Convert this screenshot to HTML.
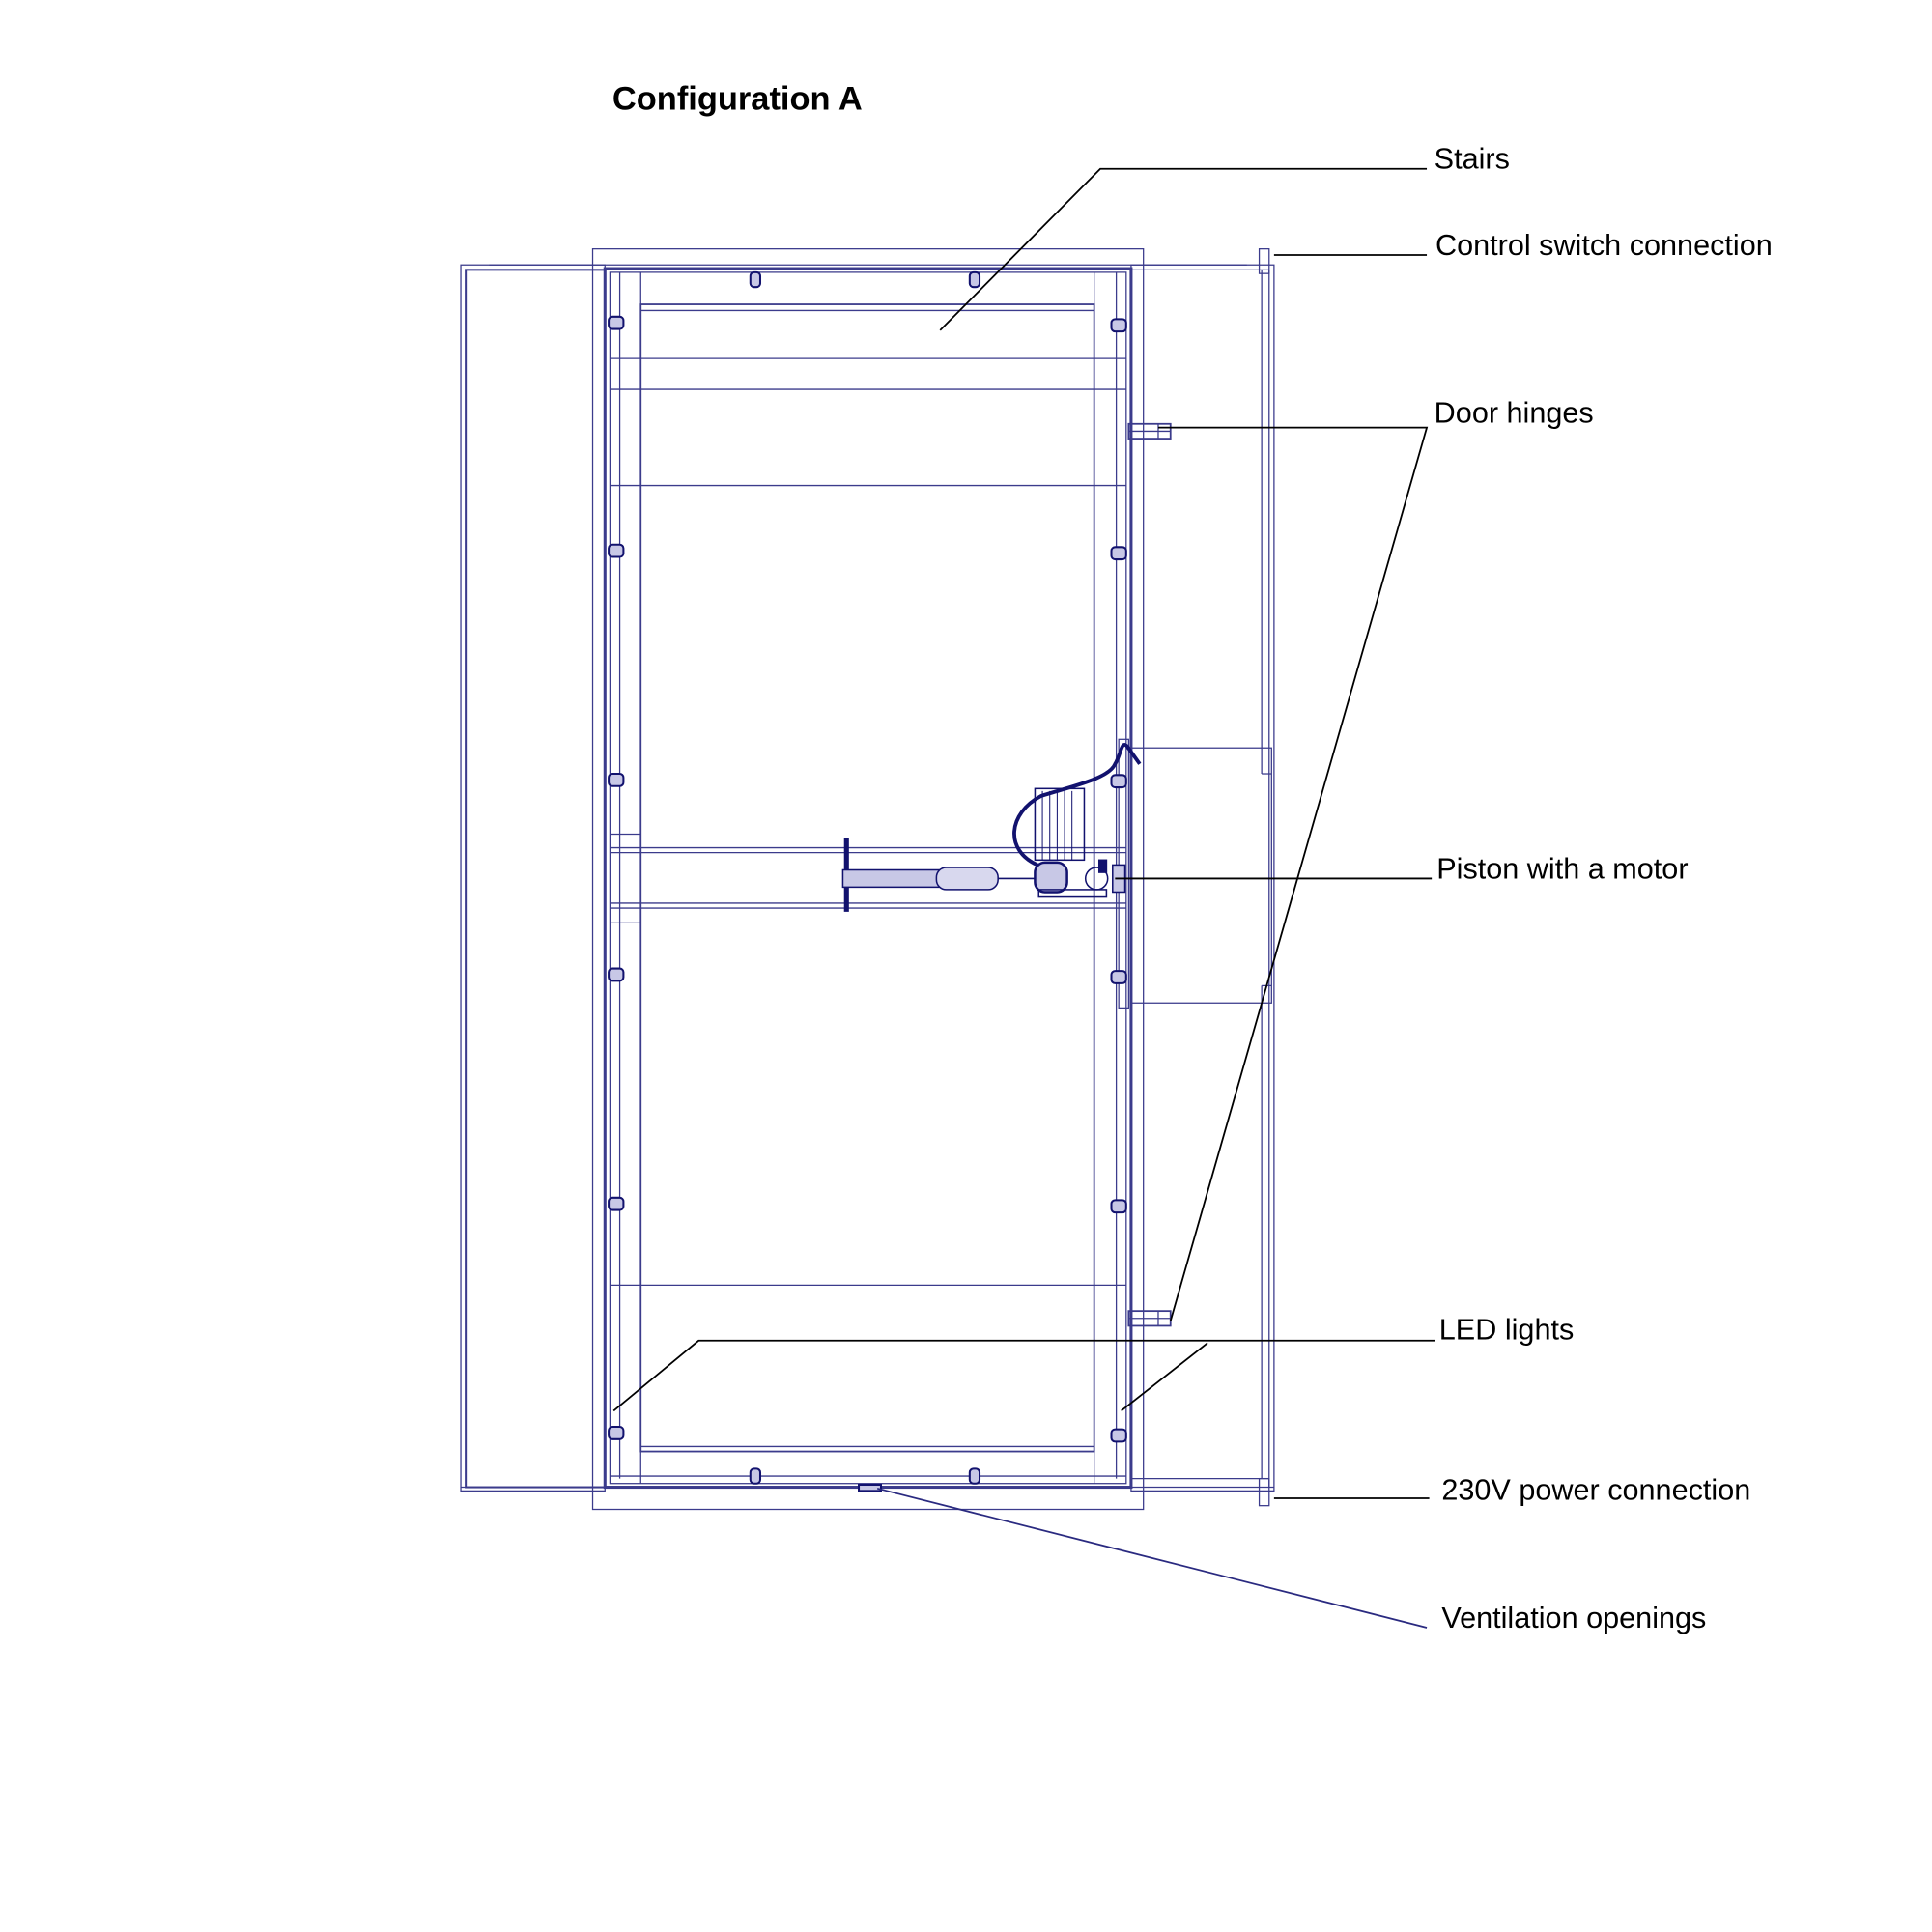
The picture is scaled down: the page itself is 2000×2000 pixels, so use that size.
<!DOCTYPE html>
<html><head><meta charset="utf-8"><style>
html,body{margin:0;padding:0;background:#fff;width:2000px;height:2000px;overflow:hidden}
svg{display:block}
text{font-family:"Liberation Sans",Arial,sans-serif;fill:#000}
</style></head><body>
<svg width="2000" height="2000" viewBox="0 0 1568 1568" xmlns="http://www.w3.org/2000/svg">
<g fill="none" stroke="#1a1a78" stroke-width="1" opacity="0.85">
  <rect x="374" y="215" width="117" height="995"/>
  <rect x="378" y="219" width="113" height="988" stroke-width="1.6"/>
  <line x1="397" y1="215" x2="1012" y2="215"/>
  <line x1="374" y1="1207" x2="1034" y2="1207"/>
  <rect x="481" y="202" width="447" height="1023"/>
  <rect x="491" y="218" width="427" height="989" stroke-width="2.4"/>
  <rect x="495" y="221" width="419" height="983"/>
  <line x1="503" y1="221" x2="503" y2="1200"/>
  <line x1="906" y1="221" x2="906" y2="1200"/>
  <rect x="520" y="247" width="368" height="931" stroke-width="1.4"/>
  <line x1="520" y1="221" x2="520" y2="1204"/>
  <line x1="888" y1="221" x2="888" y2="1204"/>
  <line x1="520" y1="252" x2="888" y2="252"/>
  <line x1="520" y1="1174" x2="888" y2="1174"/>
  <line x1="495" y1="291" x2="914" y2="291"/>
  <line x1="495" y1="316" x2="914" y2="316"/>
  <line x1="495" y1="394" x2="914" y2="394"/>
  <line x1="495" y1="1043" x2="914" y2="1043"/>
  <line x1="495" y1="1198" x2="914" y2="1198"/>
  <line x1="495" y1="688" x2="914" y2="688"/>
  <line x1="495" y1="692" x2="914" y2="692"/>
  <line x1="495" y1="733" x2="914" y2="733"/>
  <line x1="495" y1="737" x2="914" y2="737"/>
  <line x1="495" y1="677" x2="520" y2="677"/>
  <line x1="495" y1="749" x2="520" y2="749"/>
  <rect x="918" y="215" width="116" height="995"/>
  <line x1="918" y1="219" x2="1030" y2="219"/>
  <line x1="918" y1="1200" x2="1030" y2="1200"/>
  <line x1="1030" y1="219" x2="1030" y2="1207"/>
  <line x1="1024" y1="219" x2="1024" y2="628"/>
  <line x1="1024" y1="800" x2="1024" y2="1200"/>
  <rect x="1022" y="202" width="8" height="20"/>
  <rect x="1022" y="1200" width="8" height="22"/>
  <rect x="918" y="607" width="114" height="207"/>
  <line x1="1024" y1="628" x2="1032" y2="628"/>
  <line x1="1024" y1="800" x2="1032" y2="800"/>
  <rect x="908" y="600" width="8" height="218"/>
  <rect x="916" y="344" width="34" height="12" stroke-width="1.4"/>
  <line x1="916" y1="350" x2="950" y2="350"/>
  <line x1="940" y1="344" x2="940" y2="356"/>
  <rect x="916" y="1064" width="34" height="12" stroke-width="1.4"/>
  <line x1="916" y1="1070" x2="950" y2="1070"/>
  <line x1="940" y1="1064" x2="940" y2="1076"/>
</g>
<g fill="#c8c8e6" stroke="#12126e" stroke-width="1.6">
  <rect x="494" y="257" width="12" height="10" rx="3"/>
  <rect x="494" y="442" width="12" height="10" rx="3"/>
  <rect x="494" y="628" width="12" height="10" rx="3"/>
  <rect x="494" y="786" width="12" height="10" rx="3"/>
  <rect x="494" y="972" width="12" height="10" rx="3"/>
  <rect x="494" y="1158" width="12" height="10" rx="3"/>
  <rect x="902" y="259" width="12" height="10" rx="3"/>
  <rect x="902" y="444" width="12" height="10" rx="3"/>
  <rect x="902" y="629" width="12" height="10" rx="3"/>
  <rect x="902" y="788" width="12" height="10" rx="3"/>
  <rect x="902" y="974" width="12" height="10" rx="3"/>
  <rect x="902" y="1160" width="12" height="10" rx="3"/>
  <rect x="609" y="221" width="8" height="12" rx="3"/>
  <rect x="787" y="221" width="8" height="12" rx="3"/>
  <rect x="609" y="1192" width="8" height="12" rx="3"/>
  <rect x="787" y="1192" width="8" height="12" rx="3"/>
  <rect x="697" y="1205" width="18" height="5"/>
</g>
<g fill="none" stroke="#12126e" stroke-width="1.2">
  <line x1="687" y1="680" x2="687" y2="740" stroke-width="4"/>
  <rect x="684" y="706" width="90" height="14" fill="#c8c8e6"/>
  <rect x="760" y="704" width="50" height="18" rx="8" fill="#d8d8ee"/>
  <line x1="810" y1="713" x2="840" y2="713"/>
  <rect x="840" y="700" width="26" height="24" rx="8" fill="#c8c8e6" stroke-width="2"/>
  <rect x="843" y="722" width="55" height="6"/>
  <circle cx="890" cy="713" r="9"/>
  <rect x="840" y="640" width="40" height="58"/>
  <g stroke-width="0.8">
    <line x1="846" y1="642" x2="846" y2="698"/><line x1="852" y1="642" x2="852" y2="698"/>
    <line x1="858" y1="642" x2="858" y2="698"/><line x1="864" y1="642" x2="864" y2="698"/>
    <line x1="870" y1="642" x2="870" y2="698"/>
  </g>
  <path d="M842 702 C815 690 818 660 845 646 C870 638 900 632 905 620 C910 612 910 600 915 606 L925 620" stroke-width="3"/>
  <rect x="892" y="698" width="6" height="10" fill="#12126e"/>
  <rect x="903" y="702" width="10" height="22" fill="#c8c8e6"/>
</g>
<g fill="none" stroke="#000" stroke-width="1.4">
  <polyline points="763,268 893,137 1158,137"/>
  <line x1="1034" y1="207" x2="1158" y2="207"/>
  <polyline points="940,347 1158,347 950,1072"/>
  <line x1="905" y1="713" x2="1162" y2="713"/>
  <polyline points="498,1145 567,1088 1165,1088"/>
  <line x1="910" y1="1145" x2="980" y2="1090"/>
  <line x1="1034" y1="1216" x2="1160" y2="1216"/>
</g>
<line x1="712" y1="1208" x2="1158" y2="1321" stroke="#2a2a80" stroke-width="1.4"/>
<text x="497" y="89" font-size="27" font-weight="bold">Configuration A</text>
<g font-size="24">
<text x="1164" y="137">Stairs</text>
<text x="1165" y="207">Control switch connection</text>
<text x="1164" y="343">Door hinges</text>
<text x="1166" y="713">Piston with a motor</text>
<text x="1168" y="1087">LED lights</text>
<text x="1170" y="1217">230V power connection</text>
<text x="1170" y="1321">Ventilation openings</text>
</g>
</svg>
</body></html>
